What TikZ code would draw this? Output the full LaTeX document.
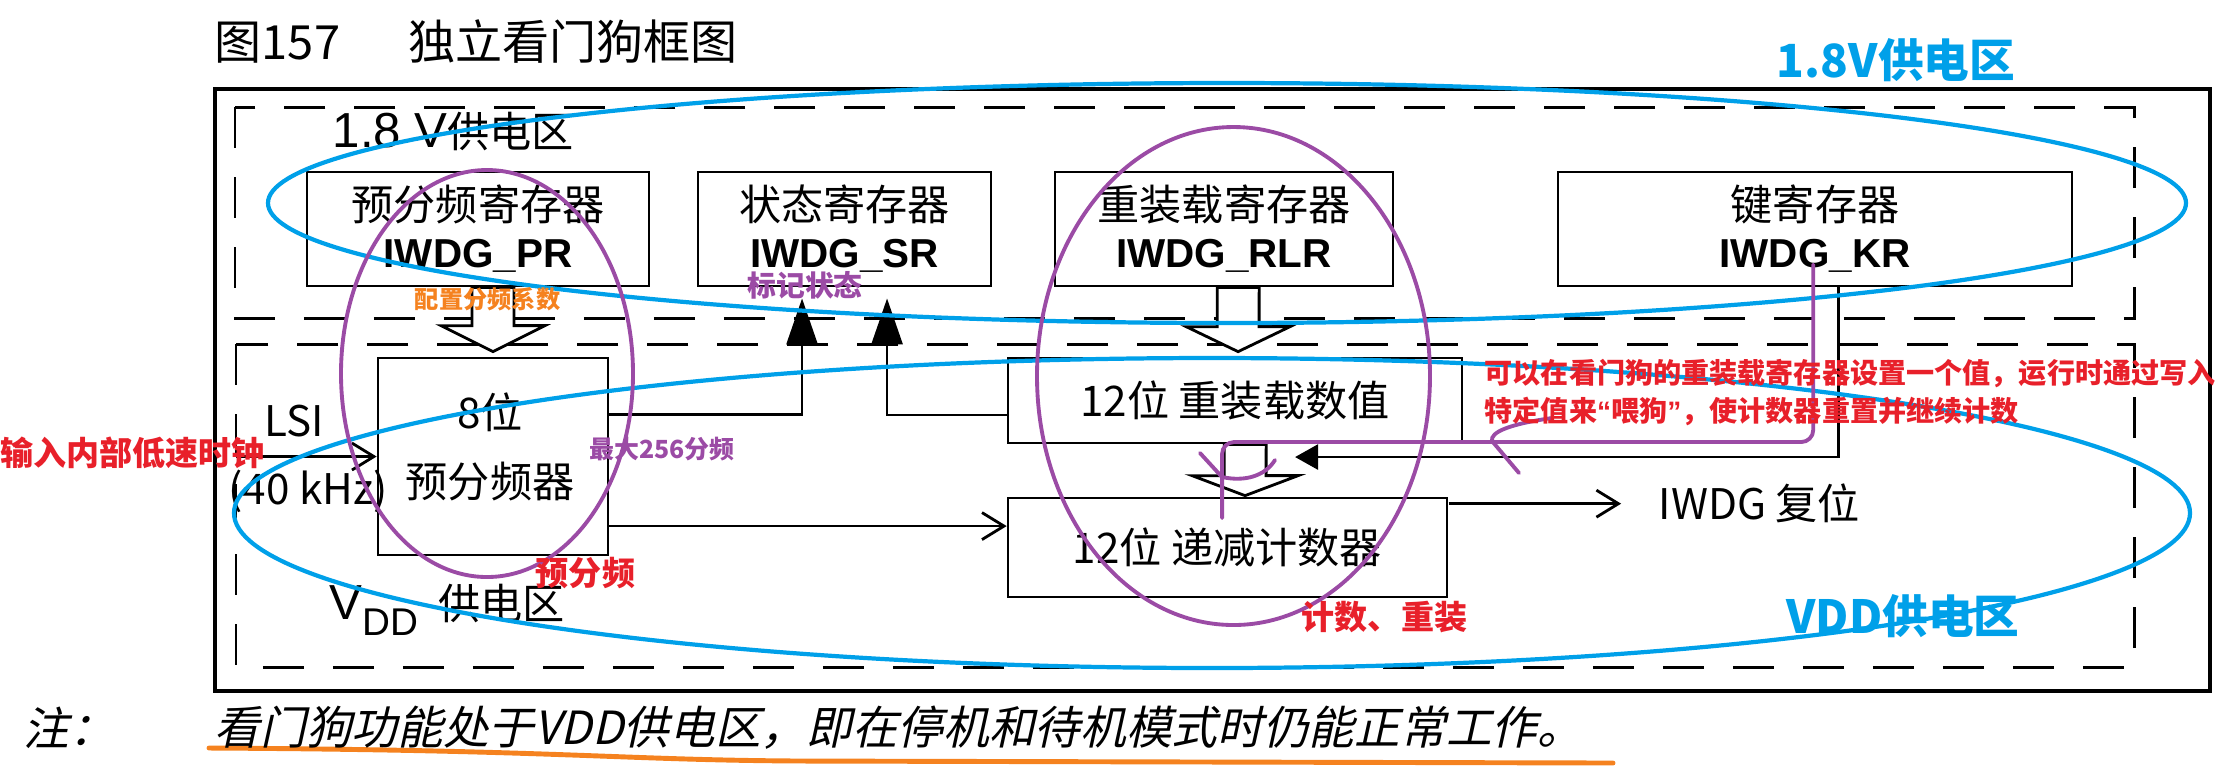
\documentclass[tikz,border=0pt]{standalone}
\usepackage{fontspec}
\setmainfont{Noto Sans CJK SC}
\newfontfamily\lat{Liberation Sans}
\newfontfamily\noteit[FakeSlant=0.22]{Noto Sans CJK SC}
\usetikzlibrary{arrows.meta,calc}
\definecolor{markblue}{HTML}{00A0E9}
\definecolor{markpurple}{HTML}{9B4BA5}
\definecolor{markred}{HTML}{E8202A}
\definecolor{markorange}{HTML}{F5821F}
\begin{document}
\begin{tikzpicture}[scale=0.1]
\tikzstyle{every node}+=[inner sep=0pt]
\tikzstyle{line}=[black, line width=0.8pt]
\tikzstyle{zone}=[black, line width=0.85pt, dash pattern=on 0.41cm off 0.29cm]
\tikzstyle{regbox}=[draw, line width=0.8pt, minimum height=1.14cm, align=center, font=\fontsize{12pt}{13.4pt}\selectfont]
\tikzstyle{unit}=[draw, line width=0.8pt, align=center, font=\fontsize{12pt}{13.4pt}\selectfont]
\tikzstyle{unittext}=[align=center, font=\fontsize{12pt}{13.4pt}\selectfont]
\tikzstyle{hollow}=[line, fill=white, line join=miter]
\tikzstyle{barb}=[line, -{Straight Barb[length=0.22cm,width=0.27cm]}]
\tikzstyle{solid}=[line, -{Triangle[length=0.46cm,width=0.31cm]}]
\tikzstyle{txt}=[font=\fontsize{12pt}{14pt}\selectfont]
\tikzstyle{blueline}=[markblue, line width=1.2pt]
\tikzstyle{purpline}=[markpurple, line width=1.1pt, line cap=round]
\useasboundingbox (0,0) rectangle (223.7,-77.7);
% frames
\draw [black, line width=0.95pt] (21.5,-8.9) rectangle (221,-69.1);
\draw [zone] (23.5,-10.7) rectangle (213.4,-31.8);
\draw [zone] (23.6,-34.4) rectangle (213.4,-66.7);
\node [anchor=west, font=\fontsize{13.4pt}{15pt}\selectfont] (title) at (21.4,-4.15) {图157\hspace{1.45em}独立看门狗框图};
\node [txt, anchor=west] (zone18) at (33.2,-13.15) {{\lat\fontsize{14pt}{15pt}\selectfont 1.8 V}供电区};
\node [txt, anchor=west] (zonevdd) at (32.9,-61.0) {{\lat\fontsize{14pt}{15pt}\selectfont V}\raisebox{-0.16cm}{\lat\fontsize{11pt}{12pt}\selectfont DD}\hspace{0.2cm}供电区};
% registers
\node [regbox, minimum width=3.42cm] (pr) at (47.8,-22.9) {预分频寄存器\\{\lat\bfseries\fontsize{11.5pt}{13.4pt}\selectfont IWDG\_PR}};
\node [regbox, minimum width=2.93cm] (sr) at (84.45,-22.9) {状态寄存器\\{\lat\bfseries\fontsize{11.5pt}{13.4pt}\selectfont IWDG\_SR}};
\node [regbox, minimum width=3.38cm] (rlr) at (122.4,-22.9) {重装载寄存器\\{\lat\bfseries\fontsize{11.5pt}{13.4pt}\selectfont IWDG\_RLR}};
\node [regbox, minimum width=5.14cm] (kr) at (181.5,-22.9) {键寄存器\\{\lat\bfseries\fontsize{11.5pt}{13.4pt}\selectfont IWDG\_KR}};
% counting units
\node [unit, minimum width=2.3cm, minimum height=1.97cm] (psc) at (49.3,-45.65) {};
\node [unittext] (psctext) at (49.0,-44.65) {8位\\[0.22cm]预分频器};
\node [unit, minimum width=4.54cm, minimum height=0.85cm] (rld) at (123.5,-40.05) {12位 重装载数值};
\node [unit, minimum width=4.39cm, minimum height=0.99cm] (cnt) at (122.75,-54.75) {12位 递减计数器};
% block arrows
\draw [hollow] ($(psc.north)+(0,0.5)$) -- ++(5.2,2.6) -- ++(-3.1,0) coordinate (s1) -- (s1 |- pr.south) -- ++(-4.2,0) -- ($(s1)+(-4.2,0)$) -- ++(-3.1,0) -- cycle;
\draw [hollow] ($(rld.north)+(0.3,0.5)$) -- ++(5.2,2.5) -- ++(-3.1,0) coordinate (s2) -- (s2 |- rlr.south) -- ++(-4.2,0) -- ($(s2)+(-4.2,0)$) -- ++(-3.1,0) -- cycle;
\draw [hollow] ($(cnt.north)+(1.75,0.1)$) -- ++(5.3,2.0) -- ++(-3.2,0) coordinate (s3) -- (s3 |- rld.south) -- ++(-4.2,0) -- ($(s3)+(-4.2,0)$) -- ++(-3.2,0) -- cycle;
% signals
\coordinate (lsi) at (23.6,-45.65);
\draw [barb] (lsi) -- (psc.west);
\node [txt] (lsitext) at (29.45,-42.1) {LSI};
\node [txt] (khz) at (30.8,-49.15) {(40 kHz)};
\draw [solid, shorten >=0.11cm] ($(psc.north east)+(0,-5.8)$) -| ($(sr.south)+(-4.25,0)$);
\draw [solid, shorten >=0.11cm] ($(rld.west)+(0,-1.45)$) -| ($(sr.south)+(4.25,0)$);
\coordinate (pscout) at ($(psc.east)+(0,-6.95)$);
\draw [barb] (pscout) -- (pscout -| cnt.west);
\coordinate (cntout) at ($(cnt.north east)+(0,-0.7)$);
\coordinate (rst) at (162.1,-50.5);
\draw [barb] (cntout) -- (cntout -| rst);
\node [txt, anchor=west] (rsttext) at (165.8,-50.35) {IWDG 复位};
\coordinate (keyhit) at (129.5,-45.7);
\draw [line, -{Triangle[length=0.23cm,width=0.25cm]}] ($(kr.south)+(2.3,0)$) |- (keyhit);
% hand marks
\draw [blueline] (122.7,-20.3) ellipse (95.9 and 12);
\draw [blueline] (121.2,-51.3) ellipse (97.8 and 15.5);
\draw [purpline] (48.7,-37.35) ellipse (14.6 and 20.35);
\draw [purpline] (123.35,-37.6) ellipse (19.65 and 24.9);
\coordinate (feedstart) at ($(kr.south)+(-0.2,2.3)$);
\coordinate (feedturn) at (122.2,-44.2);
\coordinate (feedend) at (122.2,-51.8);
\draw [purpline, rounded corners=0.12cm] (feedstart) |- (feedturn) -- (feedend);
\draw [purpline] (120,-45.3) -- (122.2,-47.7) .. controls (124.5,-48.2) and (126.5,-47.6) .. (127.5,-46);
\draw [purpline] (155.2,-41.8) .. controls (151,-42.4) and (149,-43.2) .. (149.2,-44.1) -- (151.9,-47.3);
\draw [markorange, line width=1.4pt, line cap=round] (20.9,-74.8) .. controls (56,-75) and (62,-76) .. (80,-76.1) -- (161.3,-76.3);
% notes
\node [markblue, font=\bfseries\fontsize{13pt}{15pt}\selectfont] (blue18) at (189.6,-6.0) {1.8V供电区};
\node [markblue, font=\bfseries\fontsize{13pt}{15pt}\selectfont] (bluevdd) at (190.3,-61.6) {VDD供电区};
\node [markred, font=\bfseries\fontsize{9.4pt}{11pt}\selectfont, anchor=west] (redlsi) at (0,-45.25) {输入内部低速时钟};
\node [markred, font=\bfseries\fontsize{9.4pt}{11pt}\selectfont] (redpsc) at (58.55,-57.3) {预分频};
\node [markred, font=\bfseries\fontsize{9.4pt}{11pt}\selectfont] (redcnt) at (138.45,-61.75) {计数、重装};
\node [markred, font=\bfseries\fontsize{8pt}{10.95pt}\selectfont, anchor=north west, align=left] (redfeed) at (148.4,-35.8) {可以在看门狗的重装载寄存器设置一个值，运行时通过写入\\特定值来{\lat\bfseries “}喂狗{\lat\bfseries ”}，使计数器重置并继续计数};
\node [markpurple, font=\bfseries\fontsize{7.1pt}{8pt}\selectfont] (purp256) at (66.2,-44.9) {最大256分频};
\node [markpurple, font=\bfseries\fontsize{8.2pt}{9pt}\selectfont] (purpflag) at (80.5,-28.55) {标记状态};
\node [markorange, font=\bfseries\fontsize{6.9pt}{8pt}\selectfont] (orangecfg) at (48.75,-29.9) {配置分频系数};
\node [anchor=west, font=\noteit\fontsize{13pt}{15pt}\selectfont] (note1) at (2.3,-72.75) {注：};
\node [anchor=west, font=\noteit\fontsize{13pt}{15pt}\selectfont] (note2) at (21.4,-72.75) {看门狗功能处于VDD供电区，即在停机和待机模式时仍能正常工作。};
\end{tikzpicture}
\end{document}
